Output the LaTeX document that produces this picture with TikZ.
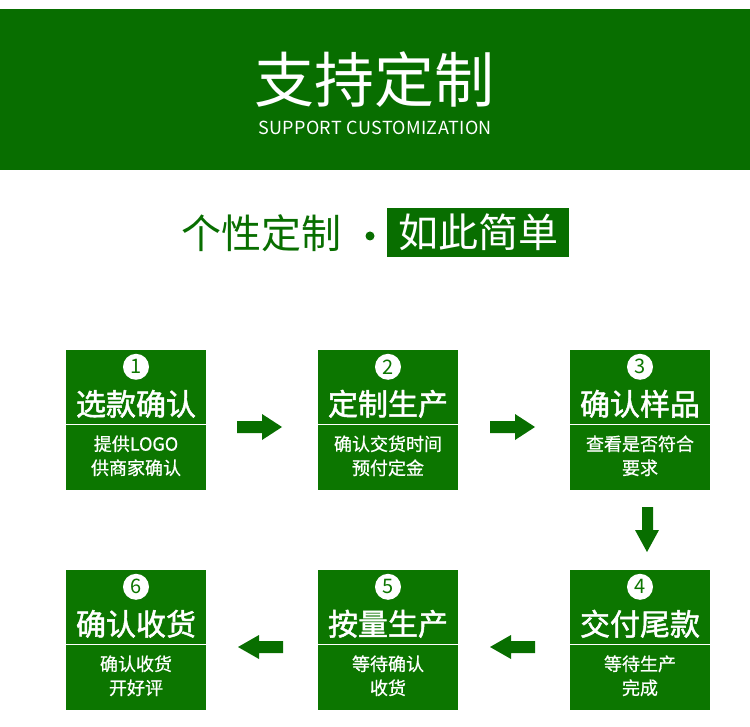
\documentclass[tikz,border=0pt]{standalone}
\usepackage{fontspec}
\setmainfont{Noto Sans CJK SC}
\newfontfamily\medfont[FakeBold=1.6]{Noto Sans CJK SC}
\newfontfamily\subfont[FakeBold=0.8]{Noto Sans CJK SC}
\definecolor{hdr}{RGB}{8,110,0}
\definecolor{bx}{RGB}{12,118,0}
\begin{document}
\begin{tikzpicture}[x=1pt,y=-1pt,
  stepbox/.style={fill=bx,draw=none,minimum width=140pt,minimum height=140pt,inner sep=0pt},
  numc/.style={circle,fill=white,minimum size=26pt,inner sep=0pt,text=bx,font=\fontsize{20}{20}\selectfont},
  ttl/.style={text=white,font=\medfont\fontsize{30}{30}\selectfont,inner sep=0pt},
  sub/.style={text=white,font=\subfont\fontsize{18}{24}\selectfont,align=center,inner sep=0pt},
  arr/.style={fill=hdr,draw=none}]
\useasboundingbox (0,0) rectangle (750,727);
\fill[white] (0,0) rectangle (750,727);
% header
\fill[hdr] (0,9) rectangle (750,170);
\node[text=white,font=\fontsize{60}{60}\selectfont,inner sep=0pt] (t1) at (374,80) {支持定制};
\node[text=white,font=\addfontfeature{LetterSpace=2}\fontsize{18}{18}\selectfont,inner sep=0pt] (t2) at (375,128) {SUPPORT CUSTOMIZATION};
% subtitle
\node[text=hdr,font=\fontsize{40}{40}\selectfont,inner sep=0pt] (s1) at (261,233) {个性定制};
\fill[hdr] (370,236) circle (4.5);
\node[fill=hdr,text=white,font=\fontsize{40}{40}\selectfont,minimum width=182pt,minimum height=49pt,inner sep=0pt] (s2) at (478,232.5) {如此简单};
% boxes
\newcommand{\stepb}[7]{%
  \node[stepbox] (#1) at (#2,#3) {};
  \draw[white,line width=1.2pt] ([yshift=-75pt]#1.north west) -- ([yshift=-75pt]#1.north east);
  \node[numc] (#1n) at ([yshift=-17pt]#1.north) {#4};
  \node[ttl] (#1t) at ([yshift=-54pt]#1.north) {#5};
  \node[sub] (#1s) at ([yshift=-106pt]#1.north) {#6\\#7};
}
\stepb{b1}{136}{420}{1}{选款确认}{提供LOGO}{供商家确认}
\stepb{b2}{388}{420}{2}{定制生产}{确认交货时间}{预付定金}
\stepb{b3}{640}{420}{3}{确认样品}{查看是否符合}{要求}
\stepb{b4}{640}{640}{4}{交付尾款}{等待生产}{完成}
\stepb{b5}{388}{640}{5}{按量生产}{等待确认}{收货}
\stepb{b6}{136}{640}{6}{确认收货}{确认收货}{开好评}
% arrows
\newcommand{\rarrow}[2]{\fill[arr] (#1,#2-6) -- (#1+25,#2-6) -- (#1+25,#2-13) -- (#1+45,#2) -- (#1+25,#2+13) -- (#1+25,#2+6) -- (#1,#2+6) -- cycle;}
\newcommand{\larrow}[2]{\fill[arr] (#1+45,#2-6) -- (#1+21,#2-6) -- (#1+21,#2-12) -- (#1,#2) -- (#1+21,#2+12) -- (#1+21,#2+6) -- (#1+45,#2+6) -- cycle;}
\rarrow{237}{427}
\rarrow{490}{427}
\larrow{238}{647}
\larrow{490}{647}
\fill[arr] (642,507) -- (653,507) -- (653,530) -- (659,530) -- (647,552) -- (635,530) -- (642,530) -- cycle;
\end{tikzpicture}
\end{document}
